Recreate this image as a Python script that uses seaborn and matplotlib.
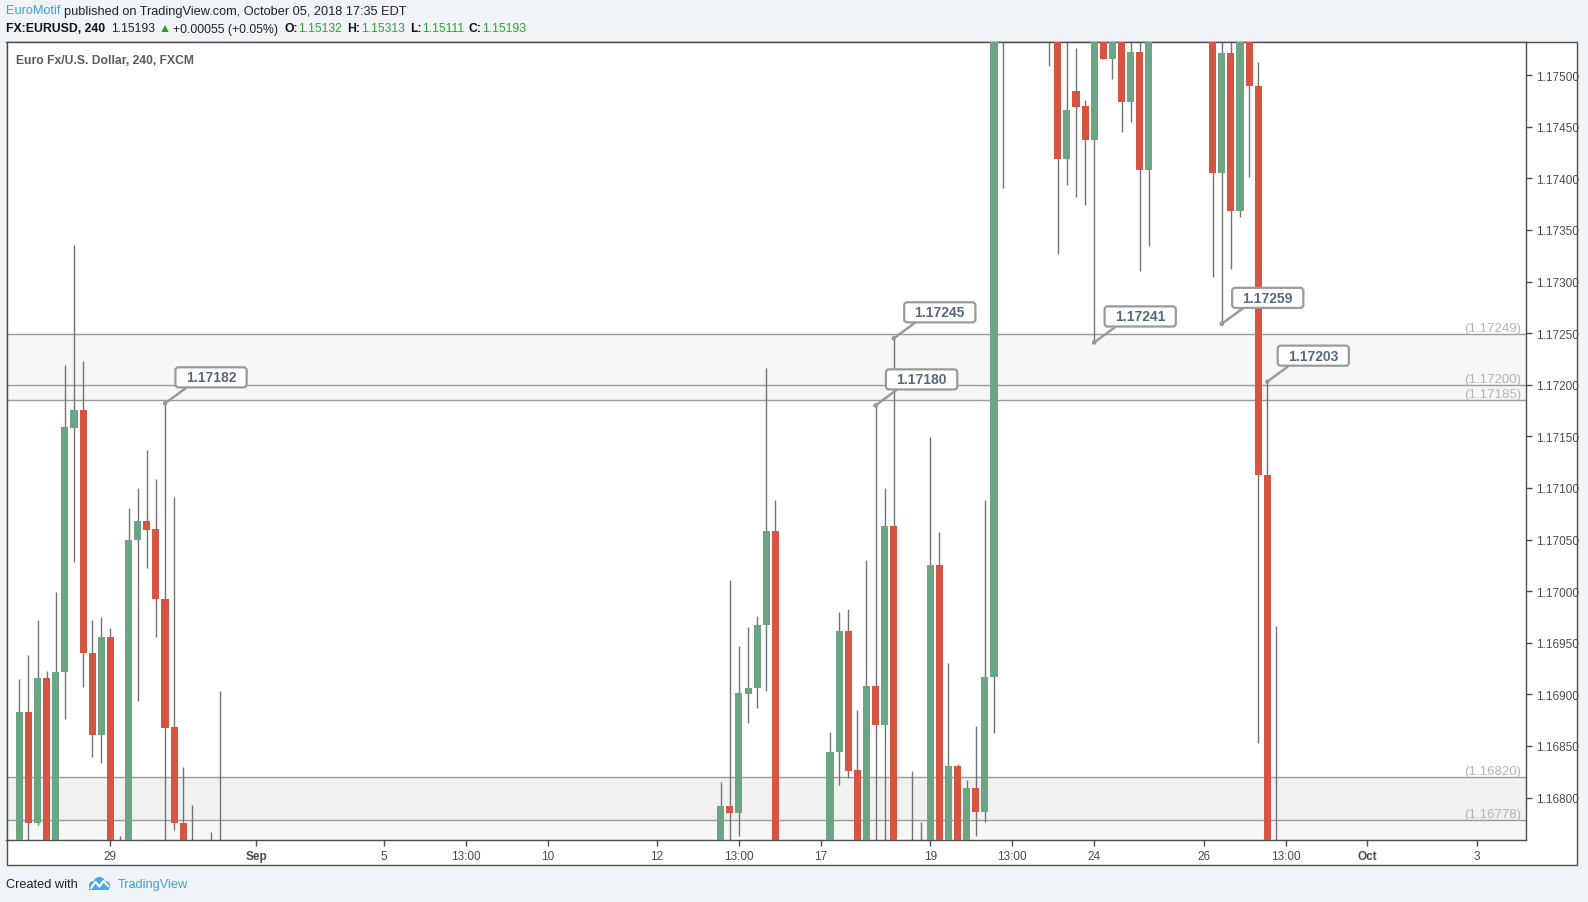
import matplotlib
matplotlib.use("Agg")
import matplotlib.pyplot as plt
from matplotlib.patches import Rectangle, Circle, BoxStyle
import numpy as np
import pandas as pd
import seaborn as sns

# EURUSD 240 (FXCM), 4h bars counted without weekends; only bars that reach the visible window.
# Prices hidden above/below the window are rough guesses (they get clipped anyway).
bars = [0, 1, 2, 3, 4, 5, 6, 7, 8, 9, 10, 11, 12, 13, 14, 15, 16, 17, 18, 19, 21, 22,
        77, 78, 79, 80, 81, 82, 83, 89, 90, 91, 92, 93, 94, 95, 96, 98, 99, 100,
        101, 102, 103, 104, 105, 106, 107, 108,
        113, 114, 115, 116, 117, 118, 119, 120, 121, 122, 123, 124,
        131, 132, 133, 134, 135, 136, 137, 138]
opens = [1.16745, 1.16883, 1.16775, 1.16916, 1.16745, 1.16922, 1.17158, 1.17176, 1.16940, 1.16861,
         1.16956, 1.16740, 1.16745, 1.17050, 1.17068, 1.17060, 1.16992, 1.16868, 1.16775, 1.16740,
         1.16740, 1.16740,
         1.16740, 1.16792, 1.16785, 1.16900, 1.16906, 1.16967, 1.17058, 1.16740, 1.16844, 1.16961,
         1.16827, 1.16740, 1.16908, 1.16870, 1.17063, 1.16740, 1.16740, 1.16740, 1.17025, 1.16740,
         1.16831, 1.16740, 1.16809, 1.16786, 1.16917, 1.17580,
         1.17570, 1.17570, 1.17419, 1.17485, 1.17470, 1.17437, 1.17570, 1.17516, 1.17570, 1.17474,
         1.17522, 1.17408,
         1.17570, 1.17405, 1.17521, 1.17368, 1.17570, 1.17489, 1.17113, 1.16740]
highs = [1.16915, 1.16938, 1.16972, 1.16923, 1.16999, 1.17219, 1.17335, 1.17223, 1.16972, 1.16975,
         1.16964, 1.16763, 1.17081, 1.17100, 1.17137, 1.17109, 1.17182, 1.17091, 1.16830, 1.16793,
         1.16767, 1.16903,
         1.16815, 1.17011, 1.16947, 1.16965, 1.16976, 1.17216, 1.17088, 1.16864, 1.16980, 1.16983,
         1.16885, 1.17030, 1.17180, 1.17100, 1.17245, 1.16826, 1.16776, 1.17149, 1.17057, 1.16930,
         1.16833, 1.16817, 1.16869, 1.17088, 1.17600, 1.17620,
         1.17620, 1.17600, 1.17560, 1.17526, 1.17476, 1.17600, 1.17600, 1.17600, 1.17600, 1.17600,
         1.17600, 1.17600,
         1.17600, 1.17600, 1.17600, 1.17600, 1.17600, 1.17513, 1.17203, 1.16966]
lows = [1.16730, 1.16750, 1.16773, 1.16735, 1.16730, 1.16876, 1.17028, 1.16907, 1.16839, 1.16834,
        1.16730, 1.16720, 1.16735, 1.16894, 1.17022, 1.16956, 1.16740, 1.16769, 1.16730, 1.16720,
        1.16720, 1.16720,
        1.16730, 1.16750, 1.16763, 1.16872, 1.16887, 1.16903, 1.16730, 1.16730, 1.16812, 1.16819,
        1.16730, 1.16730, 1.16740, 1.16740, 1.16720, 1.16720, 1.16720, 1.16730, 1.16730, 1.16730,
        1.16730, 1.16730, 1.16763, 1.16776, 1.16863, 1.17391,
        1.17509, 1.17327, 1.17394, 1.17382, 1.17374, 1.17241, 1.17516, 1.17496, 1.17445, 1.17455,
        1.17310, 1.17334,
        1.17304, 1.17259, 1.17312, 1.17363, 1.17401, 1.16853, 1.16720, 1.16720]
closes = [1.16883, 1.16775, 1.16916, 1.16745, 1.16922, 1.17159, 1.17176, 1.16940, 1.16861, 1.16956,
          1.16745, 1.16750, 1.17050, 1.17068, 1.17059, 1.16992, 1.16867, 1.16775, 1.16745, 1.16735,
          1.16735, 1.16735,
          1.16792, 1.16785, 1.16901, 1.16906, 1.16967, 1.17058, 1.16740, 1.16844, 1.16961, 1.16826,
          1.16740, 1.16908, 1.16870, 1.17063, 1.16740, 1.16735, 1.16735, 1.17025, 1.16740, 1.16831,
          1.16740, 1.16809, 1.16786, 1.16917, 1.17580, 1.17600,
          1.17590, 1.17419, 1.17466, 1.17469, 1.17437, 1.17570, 1.17516, 1.17570, 1.17474, 1.17522,
          1.17408, 1.17570,
          1.17405, 1.17521, 1.17368, 1.17570, 1.17489, 1.17113, 1.16740, 1.16735]

levels = [1.17249, 1.17200, 1.17185, 1.16820, 1.16778]

callout_bars = [16, 96, 94, 118, 132, 137]
callout_side = ["high", "high", "high", "low", "low", "high"]

price_ticks = [1.16800, 1.16850, 1.16900, 1.16950, 1.17000, 1.17050, 1.17100, 1.17150,
               1.17200, 1.17250, 1.17300, 1.17350, 1.17400, 1.17450, 1.17500]
time_tick_bars = [10, 26, 40, 49, 58, 70, 79, 88, 100, 109, 118, 130, 139, 148, 160]
time_tick_labels = ["29", "Sep", "5", "13:00", "10", "12", "13:00", "17", "19", "13:00",
                    "24", "26", "13:00", "Oct", "3"]

W, H = 1588, 903
BG = "#f0f3f7"
GREEN = "#6ba583"
RED = "#d75442"
WICK = "#737375"
LINE = "#9b9b9b"
FRAME = "#4d4d4d"
BLUE = "#3aa2d9"

sns.set_style("white")
plt.rcParams["font.family"] = ["Liberation Sans", "DejaVu Sans"]

df = pd.DataFrame({"bar": bars, "open": opens, "high": highs, "low": lows, "close": closes})
df["up"] = df["close"] >= df["open"]


def fx(px):
    return px / W


def fy(py):
    return 1 - py / H


fig = plt.figure(figsize=(W / 100, H / 100), dpi=100, facecolor=BG)

# white panel holding plot, price scale and time scale
fig.patches.append(Rectangle((fx(6.5), fy(866)), (1577 - 6.5) / W, (866 - 42.5) / H,
                             transform=fig.transFigure, facecolor="white",
                             edgecolor=FRAME, linewidth=1, zorder=-1))

ax = fig.add_axes([fx(6.5), fy(840.6), (1526 - 6.5) / W, (840.6 - 42.5) / H])
ax.set_facecolor("white")
ylo, yhi = 1.167593, 1.175326
ax.set_xlim(-1.405, 165.4)
ax.set_ylim(ylo, yhi)

# zones + levels
ax.axhspan(levels[2], levels[0], color="#f7f7f7", lw=0, zorder=0)
ax.axhspan(levels[4], levels[3], color="#f1f1f1", lw=0, zorder=0)
ax.axhspan(ylo - 0.001, levels[4], color="#f7f7f7", lw=0, zorder=0)
for p in levels:
    ax.axhline(p, color=LINE, lw=1, zorder=1)
    ax.text(0.9967, p, f"({p:.5f})", transform=ax.get_yaxis_transform(), ha="right",
            va="bottom", fontsize=9.5, color="#b4b4b4", zorder=1)

# candles
ax.vlines(df["bar"], df["low"], df["high"], color=WICK, lw=1, zorder=2)
ax.bar(df["bar"], df["close"] - df["open"], bottom=df["open"], width=0.78,
       color=np.where(df["up"], GREEN, RED), linewidth=0, zorder=3)


class WideRound:
    # rounded label box, wider than tall
    def __call__(self, x0, y0, width, height, mutation_size):
        padx, pady = 0.75 * mutation_size, 0.22 * mutation_size
        return BoxStyle.Round(pad=0, rounding_size=0.22)(
            x0 - padx, y0 - pady, width + 2 * padx, height + 2 * pady, mutation_size)


tips_x, tips_y = [], []
for b, side in zip(callout_bars, callout_side):
    p = df.loc[df["bar"] == b, side].iloc[0]
    tips_x.append(b)
    tips_y.append(p)
    ax.annotate(f"{p:.5f}", xy=(b, p), xytext=(46, 26), textcoords="offset pixels",
                ha="center", va="center", fontsize=10, fontweight="bold", color="#56687a",
                zorder=7,
                bbox=dict(boxstyle=WideRound(), fc="white", ec="#9a9a9a", lw=1.6),
                arrowprops=dict(arrowstyle="-", color="#9a9a9a", lw=1.8, shrinkA=0, shrinkB=0,
                                relpos=(0.1, 0.0)))
sns.scatterplot(x=tips_x, y=tips_y, ax=ax, s=10, color="#8c8c8c", edgecolor="none",
                zorder=6, legend=False)

# scales
ax.yaxis.tick_right()
ax.set_yticks(price_ticks)
ax.set_yticklabels([f"{p:.5f}" for p in price_ticks])
ax.set_xticks(time_tick_bars)
ax.set_xticklabels(time_tick_labels)
for lab in ax.get_xticklabels():
    if lab.get_text() in ("Sep", "Oct"):
        lab.set_fontweight("bold")
ax.tick_params(axis="both", direction="out", length=4, width=1, color=FRAME,
               labelsize=8.5, labelcolor="#4a4a4a")
ax.tick_params(axis="y", right=True, left=False, pad=3)
ax.tick_params(axis="x", bottom=True, pad=3.5)
for s in ax.spines.values():
    s.set_color(FRAME)
    s.set_linewidth(1)

ax.text(0.0064, 0.977, "Euro Fx/U.S. Dollar, 240, FXCM", transform=ax.transAxes,
        fontsize=8.7, fontweight="bold", color="#5a5a5a", va="center", ha="left")

# header / footer
renderer = fig.canvas.get_renderer()


def write_line(x, y, parts, size):
    for text, color, weight, gap in parts:
        t = fig.text(fx(x), fy(y), text, color=color, fontweight=weight, fontsize=size,
                     va="center", ha="left")
        x += t.get_window_extent(renderer).width + gap


DARK = "#222222"
VAL = "#2ea52e"
write_line(6, 11.5, [("EuroMotif", BLUE, "normal", 3.5),
                     ("published on TradingView.com, October 05, 2018 17:35 EDT", DARK, "normal", 0)], 9.2)
write_line(6, 29.5, [("FX:EURUSD, 240", "#111111", "bold", 6),
                     ("1.15193", DARK, "normal", 3),
                     ("\u25B2", "#1f9e1f", "normal", 3),
                     ("+0.00055 (+0.05%)", DARK, "normal", 6),
                     ("O:", "#111111", "bold", 0.5), ("1.15132", VAL, "normal", 5),
                     ("H:", "#111111", "bold", 0.5), ("1.15313", VAL, "normal", 5),
                     ("L:", "#111111", "bold", 0.5), ("1.15111", VAL, "normal", 5),
                     ("C:", "#111111", "bold", 0.5), ("1.15193", VAL, "normal", 0)], 8.8)
write_line(6, 885, [("Created with", DARK, "normal", 0)], 9.2)
fig.text(fx(117.5), fy(885), "TradingView", color=BLUE, fontsize=9.2, va="center", ha="left")

# little cloud logo
lax = fig.add_axes([fx(87), fy(893), 24 / W, 16 / H])
lax.axis("off")
lax.set_xlim(0, 24)
lax.set_ylim(0, 16)
for cx, cy, r in [(6.5, 6.5, 4.5), (12.5, 9.0, 6.0), (18.5, 6.5, 4.5)]:
    lax.add_patch(Circle((cx, cy), r, color="#4aa8e0", lw=0))
lax.add_patch(Rectangle((2, 2), 20, 5, color="#4aa8e0", lw=0))
lax.plot([4, 8.5, 12.5, 16.5, 21], [4, 10, 5.5, 11, 6], color="white", lw=1.6)

fig.savefig("out.png", dpi=100, facecolor=BG)
